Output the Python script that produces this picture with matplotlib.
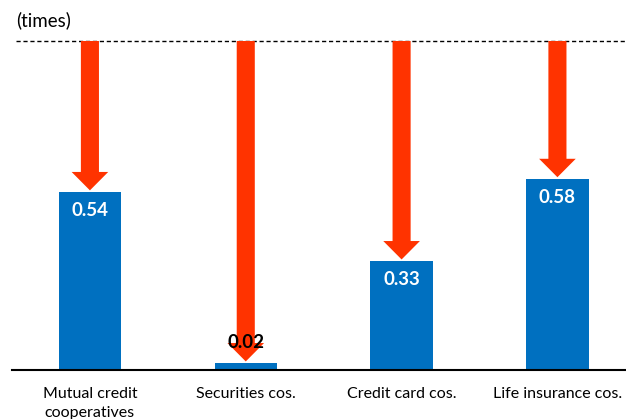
import matplotlib
matplotlib.use("Agg")
import matplotlib.pyplot as plt
from matplotlib.patches import FancyArrow

categories = ["Mutual credit\ncooperatives", "Securities cos.", "Credit card cos.", "Life insurance cos."]
values = [0.54, 0.02, 0.33, 0.58]
reference_level = 1.0
value_labels = ["0.54", "0.02", "0.33", "0.58"]

bar_color = "#0070C0"
arrow_color = "#FF3300"

plt.rcParams["font.family"] = ["Lato", "DejaVu Sans"]

W, H = 626, 419
fig = plt.figure(figsize=(W / 100, H / 100), dpi=100)
ax = fig.add_axes([12 / W, (H - 370) / H, (W - 12) / W, (370 - 41) / H])

x = list(range(len(values)))
ax.set_xlim(-0.5, 3.44)
ax.set_ylim(0, reference_level)

ax.bar(x, values, width=0.4, color=bar_color, zorder=2)

# dashed reference line at the top
ax.plot([-0.473, 3.44], [reference_level, reference_level], color="black", lw=1.0,
        ls=(0, (3, 2)), clip_on=False, zorder=1)

# arrows dropping from the reference level down to each bar
gap = 0.006
for xi, v in zip(x, values):
    length = reference_level - v - gap
    arr = FancyArrow(xi, reference_level, 0, -length, width=0.116, head_width=0.235,
                     head_length=0.056, length_includes_head=True,
                     color=arrow_color, lw=0, zorder=3)
    ax.add_patch(arr)

for xi, v, lab in zip(x, values, value_labels):
    if v > 0.1:
        ax.text(xi, v - 0.055, lab, ha="center", va="center", color="white",
                fontsize=13.5, fontweight="bold", zorder=4)
    else:
        ax.text(xi, v + 0.065, lab, ha="center", va="center", color="black",
                fontsize=13.5, fontweight="bold", zorder=4)

for s in ["top", "right", "left"]:
    ax.spines[s].set_visible(False)
ax.spines["bottom"].set_linewidth(1.5)
ax.set_yticks([])
ax.set_xticks(x)
ax.set_xticklabels(categories, fontsize=11.5, linespacing=1.45)
ax.tick_params(axis="x", length=0, pad=12)

fig.text(16 / W, 1 - 20 / H, "(times)", ha="left", va="center", fontsize=13.5)

fig.savefig("out.png", dpi=100)
